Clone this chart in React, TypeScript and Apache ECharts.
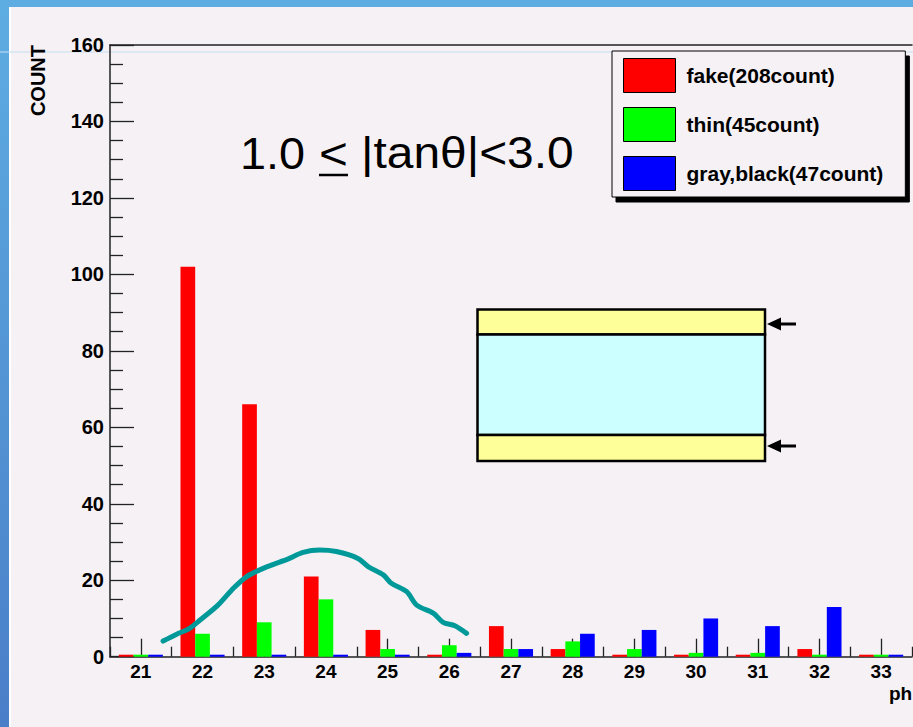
import React, { useEffect, useRef } from "react";
import * as echarts from "echarts";

// phi bins shown on the horizontal axis
const phiBins = ["21", "22", "23", "24", "25", "26", "27", "28", "29", "30", "31", "32", "33"];

// counts per bin for each strip class
const fakeCounts = [0, 102, 66, 21, 7, 0, 8, 2, 0, 0, 0, 2, 0];
const thinCounts = [0, 6, 9, 15, 2, 3, 2, 4, 2, 1, 1, 0, 0];
const grayBlackCounts = [0, 0, 0, 0, 0, 1, 2, 6, 7, 10, 8, 13, 0];

const seriesNames = ["fake(208count)", "thin(45count)", "gray,black(47count)"];
const seriesColors = ["#ff0000", "#00ff00", "#0000ff"];

// vertical scale
const countMin = 0;
const countMax = 160;
const countStep = 20;

// hand-drawn guide curve, as [phi, count] pairs
const guideCurve: [number, number][] = [
  [21.36, 4.1], [21.58, 5.9], [21.77, 7.2], [21.96, 9.6], [22.25, 13.5],
  [22.47, 17.4], [22.71, 20.9], [23.04, 23.5], [23.39, 25.6], [23.63, 27.3],
  [23.9, 27.9], [24.17, 27.5], [24.52, 25.7], [24.69, 23.5], [24.93, 21.4],
  [25.06, 19.2], [25.31, 17.0], [25.47, 13.5], [25.74, 11.4], [25.9, 9.0],
  [26.09, 8.1], [26.28, 6.1],
];

const BG = "#f5f1f5";
const FONT = "'Liberation Sans', Arial, Helvetica, sans-serif";

export default function App() {
  const ref = useRef<HTMLDivElement>(null);

  useEffect(() => {
    if (!ref.current) return;
    const chart = echarts.init(ref.current, null, { renderer: "svg" });

    const gridLeft = 110;
    const gridTop = 45;
    const gridBottom = 70.3;
    const gridWidth = 802;

    const barSeries = [fakeCounts, thinCounts, grayBlackCounts].map((vals, i) => ({
      name: seriesNames[i],
      type: "bar",
      xAxisIndex: 0,
      yAxisIndex: 0,
      data: vals,
      barWidth: 14.7,
      barGap: "0%",
      barMinHeight: 2,
      itemStyle: { color: seriesColors[i] },
      z: 2,
    }));

    chart.setOption({
      animation: false,
      backgroundColor: BG,
      textStyle: { fontFamily: FONT },
      grid: { left: gridLeft, top: gridTop, bottom: gridBottom, width: gridWidth, containLabel: false },
      legend: {
        left: 612,
        top: 51,
        orient: "vertical",
        data: seriesNames,
        selectedMode: false,
        icon: "rect",
        itemWidth: 52,
        itemHeight: 34,
        itemGap: 14,
        padding: [7, 22, 6, 11],
        backgroundColor: BG,
        borderColor: "#000",
        borderWidth: 1,
        shadowColor: "#000",
        shadowBlur: 0,
        shadowOffsetX: 4,
        shadowOffsetY: 5,
        itemStyle: { borderColor: "#000", borderWidth: 1 },
        textStyle: {
          fontFamily: FONT,
          fontWeight: "bold",
          fontSize: 21,
          color: "#000",
          padding: [0, 0, 0, 6],
        },
      },
      xAxis: [
        {
          type: "category",
          data: phiBins,
          position: "bottom",
          axisLine: { show: true, lineStyle: { color: "#222", width: 1.5 } },
          axisTick: {
            show: true,
            inside: true,
            alignWithLabel: true,
            interval: 0,
            length: 18,
            lineStyle: { color: "#222", width: 1.3 },
          },
          axisLabel: {
            interval: 0,
            margin: 5,
            fontFamily: FONT,
            fontWeight: "bold",
            fontSize: 19,
            color: "#000",
          },
          splitLine: { show: false },
        },
        {
          type: "category",
          data: phiBins,
          position: "bottom",
          axisLine: { show: false },
          axisTick: {
            show: true,
            inside: true,
            alignWithLabel: false,
            interval: 0,
            length: 10,
            lineStyle: { color: "#222", width: 1.3 },
          },
          axisLabel: { show: false, interval: 0 },
          splitLine: { show: false },
        },
        {
          type: "value",
          min: 20.5,
          max: 33.5,
          show: false,
        },
        {
          type: "category",
          data: phiBins,
          position: "top",
          axisLine: { show: true, lineStyle: { color: "#222", width: 1.5 } },
          axisTick: { show: false },
          axisLabel: { show: false },
          splitLine: { show: false },
        },
      ],
      yAxis: {
        type: "value",
        min: countMin,
        max: countMax,
        interval: countStep,
        axisLine: { show: true, lineStyle: { color: "#222", width: 1.5 } },
        axisTick: { show: true, inside: true, length: 24, lineStyle: { color: "#222", width: 1.3 } },
        minorTick: { show: true, splitNumber: 4, length: 13, lineStyle: { color: "#222", width: 1.3 } },
        axisLabel: {
          margin: 6,
          fontFamily: FONT,
          fontWeight: "bold",
          fontSize: 20,
          color: "#000",
        },
        splitLine: { show: false },
      },
      series: [
        ...barSeries,
        {
          type: "line",
          xAxisIndex: 2,
          yAxisIndex: 0,
          data: guideCurve,
          showSymbol: false,
          symbol: "none",
          smooth: 0.3,
          lineStyle: { color: "#009999", width: 5, cap: "round", join: "round" },
          z: 5,
        },
      ],
      graphic: {
        elements: [
          // slide frame
          { type: "rect", z: 0, shape: { x: 0, y: 0, width: 913, height: 7 }, style: { fill: "#5eade2" } },
          {
            type: "rect",
            z: 0,
            shape: { x: 0, y: 0, width: 9, height: 727 },
            style: {
              fill: new echarts.graphic.LinearGradient(0, 0, 0, 1, [
                { offset: 0, color: "#5eade2" },
                { offset: 1, color: "#4a7ec8" },
              ]),
            },
          },
          { type: "rect", z: 0, shape: { x: 9, y: 7, width: 2, height: 720 }, style: { fill: "#ffffff" } },
          { type: "rect", z: 0, shape: { x: 0, y: 51.5, width: 913, height: 1 }, style: { fill: "#c6e0f2" } },
          // axis titles
          {
            type: "text",
            z: 3,
            x: 37.5,
            y: 45,
            rotation: Math.PI / 2,
            style: {
              text: "COUNT",
              fontFamily: FONT,
              fontWeight: "bold",
              fontSize: 20,
              fill: "#000",
              align: "right",
              verticalAlign: "middle",
            },
          },
          {
            type: "text",
            z: 3,
            x: 889,
            y: 693,
            style: {
              text: "ph",
              fontFamily: FONT,
              fontWeight: "bold",
              fontSize: 19,
              fill: "#000",
              align: "left",
              verticalAlign: "middle",
            },
          },
          // angular range annotation
          {
            type: "text",
            z: 3,
            x: 240,
            y: 153,
            scaleX: 1.04,
            style: { text: "1.0", fontFamily: FONT, fontSize: 45, fill: "#000", align: "left", verticalAlign: "middle" },
          },
          {
            type: "text",
            z: 3,
            x: 333.5,
            y: 153,
            scaleX: 1.1,
            style: { text: "<", fontFamily: FONT, fontSize: 45, fill: "#000", align: "center", verticalAlign: "middle" },
          },
          {
            type: "line",
            z: 3,
            shape: { x1: 319, y1: 175, x2: 348, y2: 175 },
            style: { stroke: "#000", lineWidth: 2.5 },
          },
          {
            type: "text",
            z: 3,
            x: 361,
            y: 153,
            scaleX: 1.065,
            style: { text: "|tanθ|<3.0", fontFamily: FONT, fontSize: 45, fill: "#000", align: "left", verticalAlign: "middle" },
          },
          // strip layer sketch
          {
            type: "rect",
            z: 1,
            shape: { x: 477.5, y: 309.5, width: 287.5, height: 25 },
            style: { fill: "#ffff99", stroke: "#000", lineWidth: 2.5 },
          },
          {
            type: "rect",
            z: 1,
            shape: { x: 477.5, y: 334.5, width: 287.5, height: 100.5 },
            style: { fill: "#ccffff", stroke: "#000", lineWidth: 2.5 },
          },
          {
            type: "rect",
            z: 1,
            shape: { x: 477.5, y: 435, width: 287.5, height: 26 },
            style: { fill: "#ffff99", stroke: "#000", lineWidth: 2.5 },
          },
          {
            type: "polygon",
            z: 1,
            shape: { points: [[767, 324], [781, 317.5], [781, 330.5]] },
            style: { fill: "#000" },
          },
          {
            type: "line",
            z: 1,
            shape: { x1: 779, y1: 324, x2: 796, y2: 324 },
            style: { stroke: "#000", lineWidth: 3 },
          },
          {
            type: "polygon",
            z: 1,
            shape: { points: [[767, 446], [781, 439.5], [781, 452.5]] },
            style: { fill: "#000" },
          },
          {
            type: "line",
            z: 1,
            shape: { x1: 779, y1: 446, x2: 796, y2: 446 },
            style: { stroke: "#000", lineWidth: 3 },
          },
        ],
      },
    });

    return () => chart.dispose();
  }, []);

  return (
    <div
      ref={ref}
      style={{ position: "fixed", left: 0, top: 0, width: 913, height: 727, background: BG }}
    />
  );
}
